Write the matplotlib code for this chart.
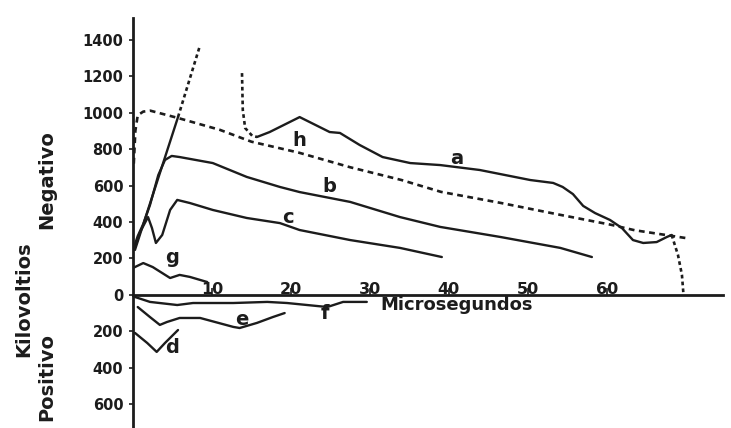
import matplotlib
matplotlib.use("Agg")
import matplotlib.pyplot as plt

# Voltage waveforms, kV against microseconds (negative polarity plotted upward)
h_t = [0.1, 0.3, 0.6, 1.3, 2.2, 5.7, 11, 15, 21, 27.5, 34, 39, 46.5, 54, 60.5, 63.5, 70]
h_v = [720, 900, 985, 1005, 1010, 970, 905, 840, 780, 700, 630, 565, 505, 440, 385, 355, 312]

a_front_t = [0.25, 5.7]
a_front_v = [247, 975]
a_offscale_t = [5.7, 8.5]
a_offscale_v = [975, 1370]
a_return_t = [13.8, 13.9, 14.2, 15.1, 15.7]
a_return_v = [1216, 1014, 915, 872, 866]
a_t = [15.7, 17.3, 21.1, 24.9, 26.2, 28.7, 31.6, 35.1, 38.9, 43.9, 50.3, 53.2,
       54.4, 55.7, 57.0, 58.5, 60.4, 61.9, 63.3, 64.6, 66.3, 67.6, 68.2]
a_v = [866, 893, 975, 893, 888, 822, 756, 723, 712, 685, 630, 614,
       592, 553, 488, 449, 411, 367, 301, 285, 290, 318, 329]
a_tail_t = [68.2, 69.0, 69.5, 69.7]
a_tail_v = [329, 219, 110, 0]

b_t = [0.0, 0.6, 1.3, 2.15, 3.2, 4.05, 4.9, 5.9, 10.1, 14.4, 18.6, 21.1,
       27.5, 33.8, 38.9, 46.5, 54.1, 58.1]
b_v = [247, 323, 389, 493, 657, 740, 762, 756, 723, 647, 592, 564,
       510, 427, 373, 318, 258, 208]

c_t = [0.13, 0.9, 1.9, 2.4, 2.9, 3.7, 4.7, 5.6, 7.2, 10.1, 14.4, 18.6,
       21.1, 27.5, 33.8, 39.1]
c_v = [247, 345, 427, 367, 285, 329, 466, 521, 504, 466, 422, 394,
       356, 301, 258, 208]

g_t = [0.0, 1.3, 2.5, 4.7, 5.9, 7.2, 9.4]
g_v = [148, 175, 153, 93, 110, 99, 71]

f_t = [0.25, 2.15, 5.6, 7.6, 12.7, 17.0, 19.5, 24.6, 26.6, 29.6]
f_v = [-11, -38, -55, -44, -44, -38, -44, -66, -38, -38]

e_t = [0.6, 2.15, 3.4, 4.3, 5.9, 8.5, 12.7, 13.5, 15.7, 17.7, 19.2]
e_v = [-66, -121, -164, -148, -126, -126, -175, -181, -153, -121, -99]

d_t = [0.25, 1.8, 3.0, 4.05, 5.7]
d_v = [-208, -263, -312, -263, -192]

curve_names = ["a", "b", "c", "h", "g", "d", "e", "f"]

y_ticks = [1400, 1200, 1000, 800, 600, 400, 200, 0, -200, -400, -600]
y_labels = ["1400", "1200", "1000", "800", "600", "400", "200", "0", "200", "400", "600"]
x_ticks = [10, 20, 30, 40, 50, 60]
x_labels = ["10", "20", "30", "40", "50", "60"]

INK = "#1c1c1c"
W, H = 731, 428

fig = plt.figure(figsize=(W / 100, H / 100), dpi=100)
fig.patch.set_facecolor("white")
ax = fig.add_axes([133 / W, 0, 590 / W, 410 / H])
ax.set_xlim(0, 74.7)
ax.set_ylim(-729, 1518)
ax.set_facecolor("none")

solid = dict(color=INK, lw=1.7, solid_capstyle="round", solid_joinstyle="round")
dashed = dict(color=INK, lw=1.9, linestyle=(0, (2.2, 1.7)))
dotted = dict(color=INK, lw=1.9, linestyle=(0, (1.4, 1.2)))

ax.plot(h_t, h_v, **dashed)
ax.plot(a_front_t, a_front_v, **solid)
ax.plot(a_offscale_t, a_offscale_v, **dotted)
ax.plot(a_return_t, a_return_v, **dotted)
ax.plot(a_t, a_v, **solid)
ax.plot(a_tail_t, a_tail_v, **dotted)
ax.plot(b_t, b_v, **solid)
ax.plot(c_t, c_v, **solid)
ax.plot(g_t, g_v, **solid)
ax.plot(f_t, f_v, **solid)
ax.plot(e_t, e_v, **solid)
ax.plot(d_t, d_v, **solid)

# curve letters
label_xy = [(41.0, 750), (24.9, 592), (19.6, 422), (21.1, 849),
            (4.9, 208), (4.9, -290), (13.8, -137), (24.3, -99)]
for name, (tx, vy) in zip(curve_names, label_xy):
    ax.text(tx, vy, name, fontsize=14, color=INK, ha="center", va="center",
            family="DejaVu Sans", fontweight="bold")

# axes
for side in ("top", "right"):
    ax.spines[side].set_visible(False)
ax.spines["left"].set_linewidth(2.0)
ax.spines["left"].set_color(INK)
ax.spines["bottom"].set_position(("data", 0))
ax.spines["bottom"].set_linewidth(2.0)
ax.spines["bottom"].set_color(INK)

ax.set_yticks(y_ticks)
ax.set_yticklabels(y_labels)
ax.tick_params(axis="y", direction="out", length=3, width=1.2, pad=4,
               labelsize=10.5, colors=INK)
for lab in ax.get_yticklabels():
    lab.set_fontweight("bold")

ax.set_xticks(x_ticks)
ax.set_xticklabels(x_labels)
ax.tick_params(axis="x", direction="in", length=5, width=1.2, pad=-9.5,
               labelsize=11.5, colors=INK)
for lab in ax.get_xticklabels():
    lab.set_fontweight("bold")

ax.text(41.0, -55, "Microsegundos", fontsize=13, color=INK, ha="center",
        va="center", family="DejaVu Sans", fontweight="bold")

fig.text(47 / W, 1 - 180 / H, "Negativo", rotation=90, fontsize=14,
         color=INK, ha="center", va="center", fontweight="bold")
fig.text(24 / W, 1 - 299 / H, "Kilovoltios", rotation=90, fontsize=14,
         color=INK, ha="center", va="center", fontweight="bold")
fig.text(47 / W, 1 - 377 / H, "Positivo", rotation=90, fontsize=14,
         color=INK, ha="center", va="center", fontweight="bold")

fig.savefig("out.png", dpi=100, facecolor="white")
